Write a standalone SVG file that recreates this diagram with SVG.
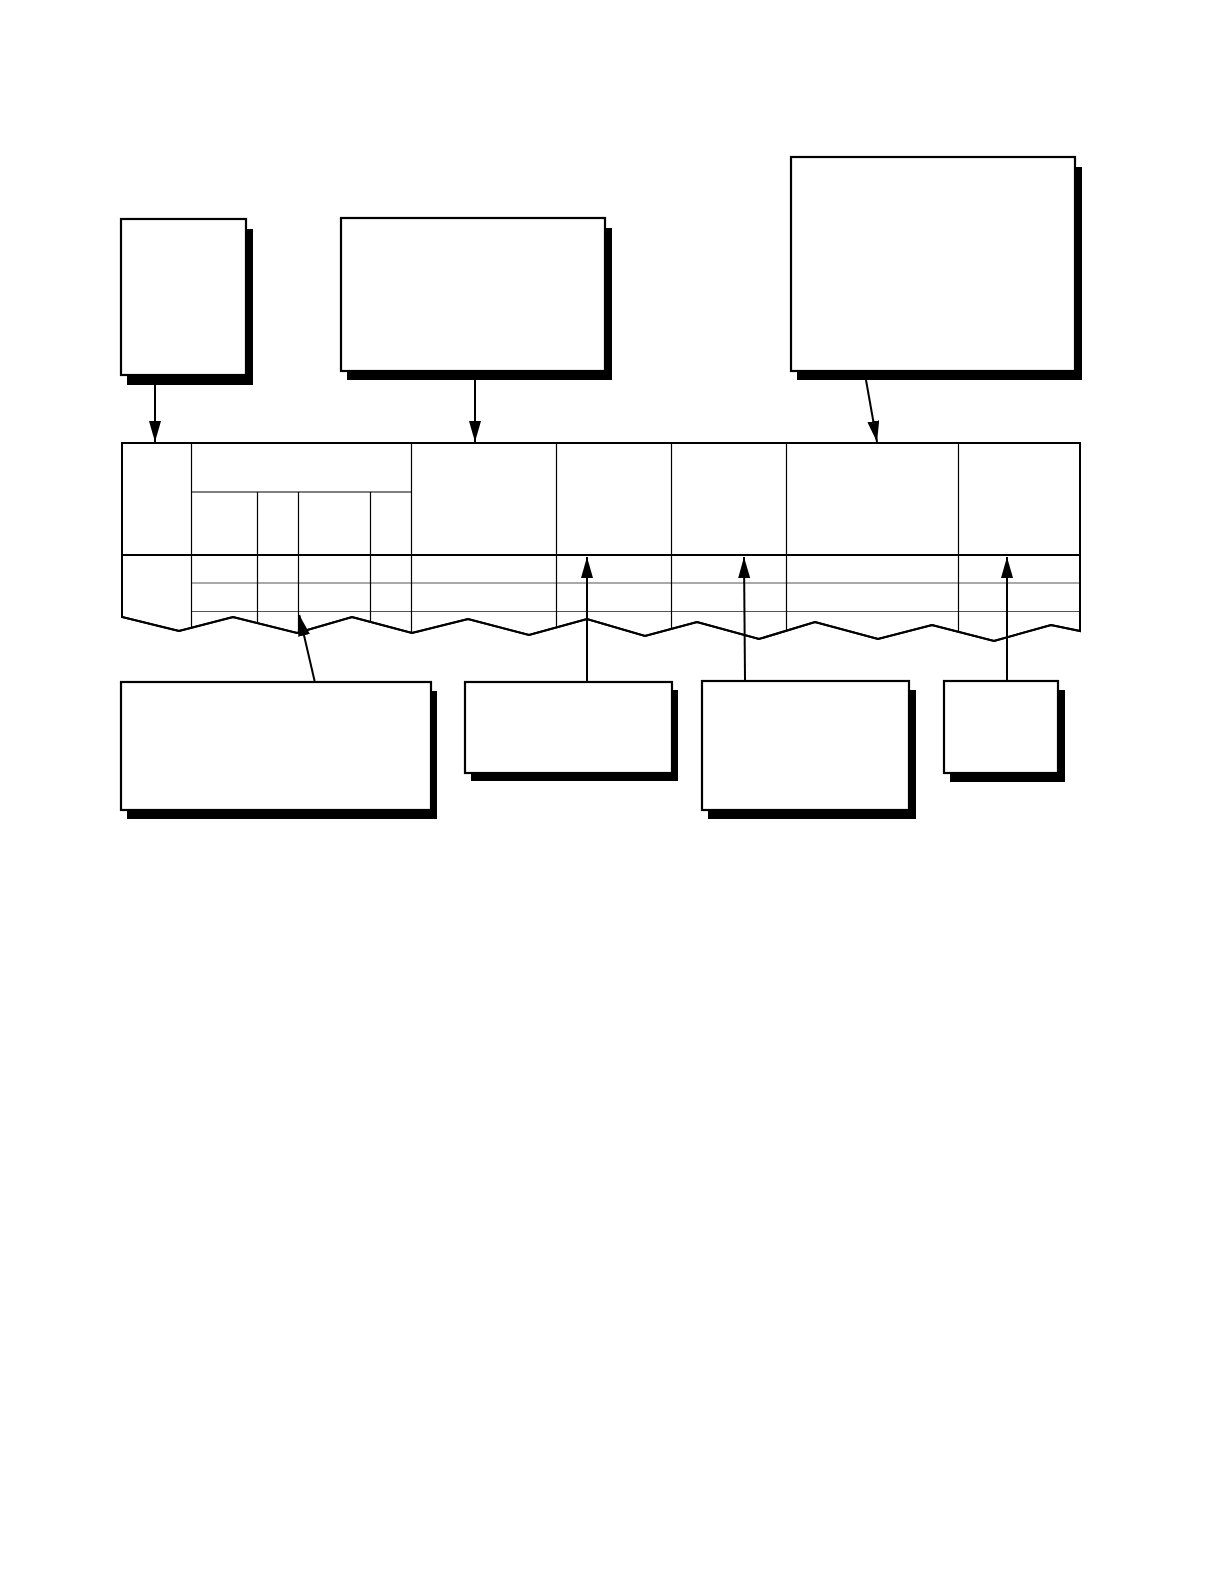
<svg xmlns="http://www.w3.org/2000/svg" width="1224" height="1584" viewBox="0 0 1224 1584">
<style>
.box{fill:#fff;stroke:#000;stroke-width:2.2}
.shadow{fill:#000;stroke:none}
.outline{fill:#fff;stroke:#000;stroke-width:2}
.thin{stroke:#000;stroke-width:1.2;fill:none}
.row{stroke:#555;stroke-width:1.2;fill:none}
.thick{stroke:#000;stroke-width:2.2;fill:none}
.conn{stroke:#000;stroke-width:2;fill:none;marker-end:url(#ah)}
</style>
<defs>
<marker id="ah" markerUnits="userSpaceOnUse" markerWidth="22" markerHeight="13" refX="21" refY="6" orient="auto">
<path d="M0,0 L21,6 L0,12 z" fill="#000"/>
</marker>
<clipPath id="tclip">
<polygon points="122,443 1080,443 1080,631 1051,625 994,641 932,625 878,639 815,622 759,639 697,622 645,636 587,619 529,635 468,619 412,633 352,617 297,633 233,617 179,631 122,617"/>
</clipPath>
</defs>
<rect width="1224" height="1584" fill="#fff"/>

<g id="box-top-left">
<rect class="shadow" x="127" y="229" width="126" height="156"/>
<rect class="box" x="121" y="219" width="125" height="156"/>
</g>
<g id="box-top-middle">
<rect class="shadow" x="347" y="228" width="265" height="152"/>
<rect class="box" x="341" y="218" width="264" height="153"/>
</g>
<g id="box-top-right">
<rect class="shadow" x="797" y="167" width="285" height="213"/>
<rect class="box" x="791" y="157" width="284" height="214"/>
</g>

<g id="table">
<polygon class="outline" points="122,443 1080,443 1080,631 1051,625 994,641 932,625 878,639 815,622 759,639 697,622 645,636 587,619 529,635 468,619 412,633 352,617 297,633 233,617 179,631 122,617"/>
<g clip-path="url(#tclip)">
<line class="row" x1="191" y1="583" x2="1080" y2="583"/>
<line class="row" x1="191" y1="611.5" x2="1080" y2="611.5"/>
<line class="thin" x1="191.5" y1="443" x2="191.5" y2="650"/>
<line class="thin" x1="257.5" y1="492" x2="257.5" y2="650"/>
<line class="thin" x1="298.5" y1="492" x2="298.5" y2="650"/>
<line class="thin" x1="370.5" y1="492" x2="370.5" y2="650"/>
<line class="thin" x1="411.5" y1="443" x2="411.5" y2="650"/>
<line class="thin" x1="556.5" y1="443" x2="556.5" y2="650"/>
<line class="thin" x1="671.5" y1="443" x2="671.5" y2="650"/>
<line class="thin" x1="786.5" y1="443" x2="786.5" y2="650"/>
<line class="thin" x1="958.5" y1="443" x2="958.5" y2="650"/>
<line class="thin" x1="191" y1="492" x2="411.5" y2="492"/>
<line class="thick" x1="122" y1="555" x2="1080" y2="555"/>
</g>
<polygon points="122,443 1080,443 1080,631 1051,625 994,641 932,625 878,639 815,622 759,639 697,622 645,636 587,619 529,635 468,619 412,633 352,617 297,633 233,617 179,631 122,617" fill="none" stroke="#000" stroke-width="2"/>
</g>

<g id="box-bottom-1">
<rect class="shadow" x="127" y="691" width="310" height="128"/>
<rect class="box" x="121" y="682" width="310" height="128"/>
</g>
<g id="box-bottom-2">
<rect class="shadow" x="471" y="690" width="207" height="91"/>
<rect class="box" x="465" y="682" width="207" height="91"/>
</g>
<g id="box-bottom-3">
<rect class="shadow" x="708" y="690" width="208" height="129"/>
<rect class="box" x="702" y="681" width="207" height="129"/>
</g>
<g id="box-bottom-4">
<rect class="shadow" x="950" y="690" width="115" height="92"/>
<rect class="box" x="944" y="681" width="114" height="92"/>
</g>

<g id="connectors">
<path class="conn" d="M155,384 L155,442"/>
<path class="conn" d="M475,380 L475,442"/>
<path class="conn" d="M866,380 L877,442"/>
<path class="conn" d="M314.6,681 L299.3,615"/>
<path class="conn" d="M587,681 L587,557"/>
<path class="conn" d="M745,680 L744,557"/>
<path class="conn" d="M1007,680 L1007,557"/>
</g>
</svg>
